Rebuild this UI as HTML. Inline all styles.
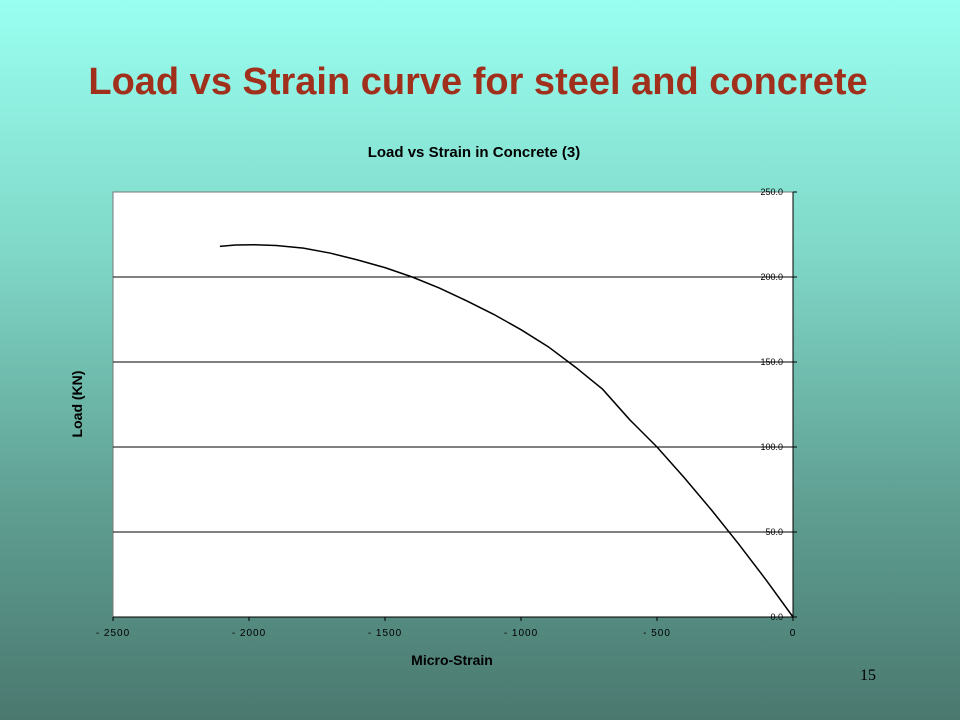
<!DOCTYPE html>
<html><head><meta charset="utf-8"><style>
body{margin:0;width:960px;height:720px;overflow:hidden;background:linear-gradient(#99fff0 0%,#80d8c8 35%,#5f9f92 70%,#4a786f 100%);font-family:"Liberation Sans",sans-serif;}
svg{position:absolute;left:0;top:0}
</style></head><body>
<svg width="960" height="720">
<text x="478" y="94" text-anchor="middle" font-size="38" font-weight="bold" fill="#a0301c">Load vs Strain curve for steel and concrete</text>
<text x="474" y="157" text-anchor="middle" font-size="15" font-weight="bold" fill="#000">Load vs Strain in Concrete (3)</text>
<rect x="113" y="192" width="680" height="425" fill="#fff" stroke="#777"/>
<g id="grid"></g><g id="axes"></g>
<path id="curve" fill="none" stroke="#000" stroke-width="1.5"/>
<text x="452" y="665" text-anchor="middle" font-size="14" font-weight="bold">Micro-Strain</text>
<text transform="translate(82,404) rotate(-90)" text-anchor="middle" font-size="14" font-weight="bold">Load (KN)</text>
<text x="868" y="680" text-anchor="middle" font-size="16" font-family="Liberation Serif,serif" fill="#000">15</text>
</svg>
<script>
const strain=[-2107,-2050,-1980,-1900,-1800,-1700,-1600,-1500,-1400,-1300,-1200,-1100,-1000,-900,-800,-700,-600,-500,-400,-300,-200,-100,0];
const load=[218,218.8,219,218.5,217,214,210,205.5,200,193.5,186,178,169,159,147,134,116,100,82,63,43,22,0];
const xTicks=[-2500,-2000,-1500,-1000,-500,0];
const yTicks=[0,50,100,150,200,250];
const X=v=>113+(v+2500)*680/2500, Y=v=>617-v*425/250;
const ns="http://www.w3.org/2000/svg";
const g=document.getElementById('grid'), a=document.getElementById('axes');
function mk(p,tag,at){const e=document.createElementNS(ns,tag);for(const k in at)e.setAttribute(k,at[k]);p.appendChild(e);return e;}
yTicks.forEach(v=>{
 if(v>0&&v<250){const l=mk(g,'line',{x1:113,x2:793,y1:Y(v),y2:Y(v),stroke:'#000','stroke-width':1});
 
 }
 const t=mk(a,'line',{x1:793,x2:797,y1:Y(v),y2:Y(v),stroke:'#000'});
 
 
 const tx=mk(a,'text',{x:783,y:Y(v)+3,'text-anchor':'end','font-size':9});
 tx.textContent=v.toFixed(1);
 
 
});
mk(a,'line',{x1:793,x2:793,y1:192,y2:617,stroke:'#000'});
mk(a,'line',{x1:113,x2:793,y1:617,y2:617,stroke:'#000'});
xTicks.forEach(v=>{
 const t=mk(a,'line',{x1:X(v),x2:X(v),y1:617,y2:621,stroke:'#000'});
 
 
 const tx=mk(a,'text',{x:X(v),y:636,'text-anchor':'middle','font-size':10,'letter-spacing':'1'});
 tx.textContent=v<0?'- '+(-v):String(v);
 
 
});
document.getElementById('curve').setAttribute('d',strain.map((s,i)=>(i?'L':'M')+X(s)+','+Y(load[i])).join(''));
</script>
</body></html>
